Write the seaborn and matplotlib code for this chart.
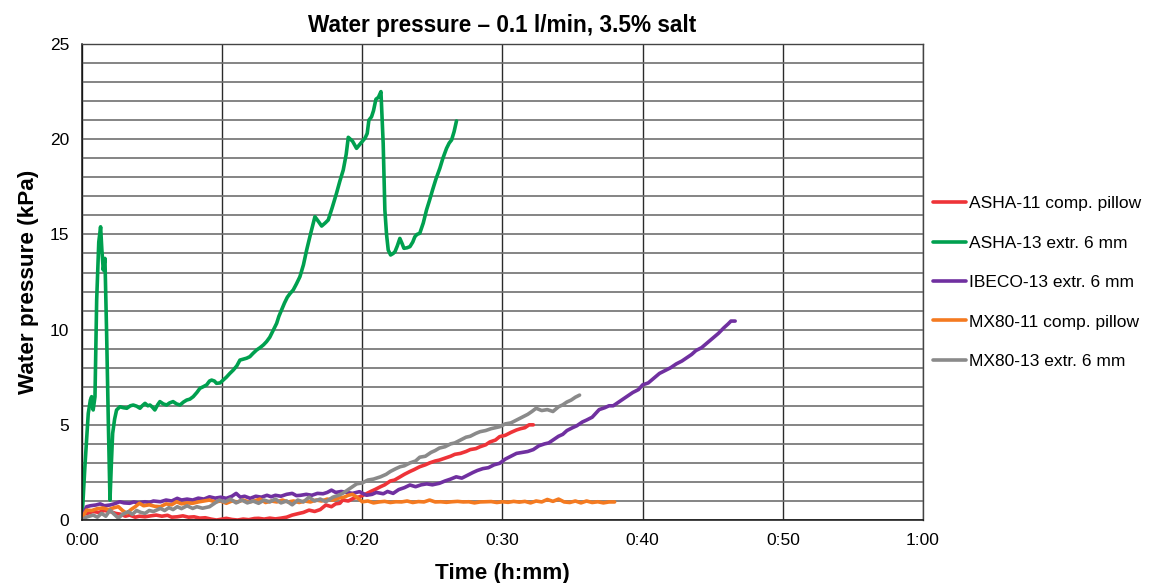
import matplotlib
matplotlib.use("Agg")
import matplotlib.pyplot as plt
from matplotlib.lines import Line2D
from matplotlib.ticker import MultipleLocator
import pandas as pd
import seaborn as sns

# Water pressure readings: (elapsed time in minutes, pressure in kPa)
asha11_pillow = [
    (0.0, 0.3), (0.4, 0.35), (0.8, 0.45), (1.2, 0.4), (1.6, 0.5), (2.0, 0.45), (2.4, 0.35),
    (2.8, 0.3), (3.1, 0.2), (3.4, 0.26), (3.8, 0.15), (4.1, 0.2), (4.5, 0.17), (4.9, 0.22),
    (5.3, 0.26), (5.7, 0.2), (6.1, 0.25), (6.4, 0.15), (6.8, 0.17), (7.2, 0.22), (7.6, 0.15),
    (8.0, 0.17), (8.4, 0.1), (8.8, 0.12), (9.2, 0.05), (9.6, 0.0), (10.0, 0.05), (10.3, 0.09),
    (10.7, 0.03), (11.1, 0.0), (11.5, 0.05), (11.9, 0.02), (12.3, 0.08), (12.6, 0.09),
    (13.0, 0.05), (13.4, 0.1), (13.8, 0.06), (14.2, 0.1), (14.6, 0.15), (15.0, 0.26),
    (15.5, 0.35), (15.8, 0.4), (16.2, 0.52), (16.6, 0.45), (17.0, 0.55), (17.4, 0.79),
    (17.8, 0.7), (18.1, 0.85), (18.4, 0.88), (18.6, 1.05), (19.0, 1.0), (19.4, 1.15),
    (19.8, 1.22), (20.2, 1.35), (20.6, 1.5), (20.9, 1.6), (21.3, 1.75), (21.6, 1.85),
    (22.0, 2.05), (22.3, 2.1), (22.7, 2.27), (23.0, 2.4), (23.4, 2.55), (23.7, 2.65),
    (24.1, 2.8), (24.5, 2.9), (24.8, 3.0), (25.2, 3.1), (25.5, 3.15), (25.9, 3.25),
    (26.3, 3.35), (26.6, 3.45), (27.0, 3.5), (27.4, 3.6), (27.7, 3.7), (28.1, 3.75),
    (28.4, 3.85), (28.8, 3.95), (29.1, 4.1), (29.5, 4.2), (29.8, 4.38), (30.2, 4.45),
    (30.6, 4.6), (31.0, 4.73), (31.3, 4.8), (31.6, 4.85), (31.9, 5.0), (32.2, 5.0),
]

asha13_extr = [
    (0.0, 0.0), (0.21, 2.8), (0.45, 5.6), (0.6, 6.3), (0.69, 6.48), (0.8, 5.78), (0.93, 6.48),
    (1.05, 11.55), (1.2, 14.6), (1.33, 15.4), (1.42, 14.2), (1.52, 13.13), (1.64, 13.74),
    (1.76, 9.8), (1.88, 5.2), (2.0, 1.05), (2.1, 3.0), (2.19, 4.55), (2.33, 5.3), (2.47, 5.78),
    (2.71, 5.95), (2.95, 5.9), (3.2, 5.87), (3.45, 6.0), (3.66, 6.04), (3.9, 5.98),
    (4.14, 5.87), (4.3, 6.0), (4.5, 6.13), (4.7, 6.0), (4.85, 6.04), (5.0, 5.95), (5.2, 5.78),
    (5.4, 6.05), (5.56, 6.22), (5.8, 6.1), (6.04, 6.04), (6.25, 6.15), (6.5, 6.22), (6.75, 6.1),
    (6.99, 6.04), (7.25, 6.2), (7.47, 6.3), (7.7, 6.35), (7.94, 6.48), (8.2, 6.7), (8.42, 6.92),
    (8.65, 7.0), (8.9, 7.1), (9.1, 7.3), (9.25, 7.35), (9.45, 7.3), (9.6, 7.18), (9.85, 7.2),
    (10.08, 7.35), (10.3, 7.5), (10.55, 7.7), (10.8, 7.88), (11.05, 8.1), (11.27, 8.4),
    (11.5, 8.45), (11.75, 8.5), (11.98, 8.58), (12.2, 8.75), (12.46, 8.93), (12.7, 9.05),
    (12.95, 9.2), (13.17, 9.37), (13.4, 9.6), (13.6, 9.9), (13.89, 10.33), (14.05, 10.7),
    (14.24, 11.03), (14.45, 11.4), (14.65, 11.7), (14.85, 11.9), (15.07, 12.08), (15.3, 12.4),
    (15.55, 12.78), (15.8, 13.4), (16.03, 14.18), (16.3, 15.0), (16.62, 15.93), (16.85, 15.7),
    (17.1, 15.44), (17.35, 15.6), (17.57, 15.76), (17.85, 16.4), (18.16, 17.16), (18.4, 17.8),
    (18.64, 18.38), (18.85, 19.2), (19.0, 20.1), (19.3, 19.9), (19.59, 19.52), (19.9, 19.8),
    (20.19, 20.05), (20.35, 20.3), (20.47, 21.0), (20.66, 21.18), (20.8, 21.5), (20.97, 22.1),
    (21.15, 22.2), (21.33, 22.5), (21.49, 19.78), (21.61, 16.28), (21.73, 15.0), (21.85, 14.18),
    (22.02, 13.92), (22.2, 14.0), (22.33, 14.09), (22.5, 14.4), (22.68, 14.79), (22.85, 14.5),
    (22.97, 14.27), (23.2, 14.3), (23.4, 14.36), (23.6, 14.6), (23.75, 14.88), (23.9, 15.0),
    (24.1, 15.06), (24.35, 15.6), (24.58, 16.28), (24.8, 16.8), (25.01, 17.33), (25.25, 17.9),
    (25.53, 18.47), (25.75, 19.0), (26.01, 19.52), (26.2, 19.8), (26.37, 19.96), (26.55, 20.4),
    (26.72, 20.96),
]

ibeco13_extr = [
    (0.0, 0.0), (0.15, 0.4), (0.33, 0.7), (0.6, 0.75), (1.0, 0.79), (1.3, 0.85), (1.6, 0.75),
    (2.0, 0.79), (2.3, 0.85), (2.7, 0.96), (3.0, 0.9), (3.4, 0.88), (3.7, 0.95), (4.0, 0.9),
    (4.5, 0.96), (4.8, 0.92), (5.1, 1.0), (5.6, 0.96), (6.0, 1.05), (6.4, 1.0), (6.8, 1.14),
    (7.1, 1.05), (7.5, 1.1), (7.9, 1.05), (8.3, 1.15), (8.7, 1.1), (9.1, 1.22), (9.5, 1.15),
    (9.9, 1.2), (10.3, 1.14), (10.7, 1.25), (11.0, 1.4), (11.3, 1.2), (11.6, 1.25), (12.0, 1.14),
    (12.4, 1.25), (12.8, 1.2), (13.2, 1.3), (13.5, 1.22), (13.8, 1.3), (14.2, 1.25), (14.6, 1.35),
    (15.0, 1.4), (15.3, 1.28), (15.6, 1.3), (16.0, 1.35), (16.4, 1.3), (16.8, 1.4), (17.2, 1.38),
    (17.5, 1.45), (17.8, 1.57), (18.1, 1.45), (18.5, 1.5), (18.9, 1.45), (19.3, 1.4), (19.8, 1.49),
    (20.3, 1.3), (20.7, 1.35), (21.0, 1.45), (21.5, 1.38), (21.8, 1.5), (22.2, 1.4), (22.6, 1.6),
    (23.0, 1.7), (23.4, 1.84), (23.8, 1.75), (24.2, 1.85), (24.6, 1.9), (25.0, 1.85), (25.5, 1.93),
    (25.9, 2.05), (26.3, 2.15), (26.7, 2.27), (27.1, 2.2), (27.5, 2.35), (27.9, 2.5), (28.2, 2.6),
    (28.6, 2.7), (29.0, 2.75), (29.4, 2.9), (29.8, 2.98), (30.2, 3.2), (30.6, 3.35), (31.0, 3.5),
    (31.4, 3.55), (31.8, 3.6), (32.2, 3.7), (32.6, 3.9), (33.0, 4.0), (33.3, 4.05), (33.6, 4.2),
    (34.0, 4.4), (34.3, 4.5), (34.6, 4.7), (35.0, 4.85), (35.3, 4.95), (35.7, 5.15), (36.0, 5.25),
    (36.4, 5.4), (36.9, 5.8), (37.3, 5.9), (37.6, 6.0), (37.9, 6.0), (38.3, 6.2), (38.7, 6.4),
    (39.0, 6.55), (39.3, 6.7), (39.7, 6.85), (40.0, 7.1), (40.4, 7.2), (40.8, 7.45), (41.2, 7.7),
    (41.6, 7.85), (42.0, 8.0), (42.4, 8.2), (42.8, 8.35), (43.1, 8.5), (43.5, 8.7), (43.8, 8.9),
    (44.2, 9.05), (44.6, 9.3), (45.0, 9.55), (45.4, 9.8), (45.8, 10.1), (46.1, 10.3),
    (46.3, 10.45), (46.6, 10.45),
]

mx80_11_pillow = [
    (0.0, 0.08), (0.15, 0.3), (0.33, 0.52), (0.7, 0.5), (1.1, 0.6), (1.5, 0.63), (1.9, 0.55),
    (2.3, 0.65), (2.6, 0.7), (2.9, 0.5), (3.2, 0.35), (3.5, 0.55), (3.8, 0.7), (4.1, 0.88),
    (4.4, 0.75), (4.8, 0.8), (5.2, 0.72), (5.6, 0.7), (6.0, 0.85), (6.4, 0.8), (6.75, 0.96),
    (7.1, 0.85), (7.5, 0.9), (7.9, 0.88), (8.3, 0.95), (8.7, 1.0), (9.1, 1.05), (9.5, 0.95),
    (9.9, 1.0), (10.3, 0.88), (10.7, 1.0), (11.1, 0.95), (11.5, 1.05), (11.9, 0.95), (12.3, 1.0),
    (12.7, 1.1), (13.1, 0.92), (13.5, 1.0), (13.9, 0.95), (14.3, 1.05), (14.7, 0.95), (15.1, 1.0),
    (15.5, 0.92), (15.9, 1.0), (16.3, 0.95), (16.7, 1.05), (17.1, 1.0), (17.5, 1.1), (17.9, 1.05),
    (18.3, 1.15), (18.7, 1.2), (19.0, 1.3), (19.3, 1.35), (19.6, 1.2), (20.0, 0.96), (20.4, 1.0),
    (20.8, 0.9), (21.2, 0.95), (21.6, 0.98), (22.0, 0.92), (22.4, 0.96), (22.8, 0.95), (23.2, 1.0),
    (23.6, 0.92), (24.0, 0.97), (24.4, 0.95), (24.8, 1.05), (25.2, 0.95), (25.6, 0.96),
    (26.0, 0.93), (26.4, 0.96), (26.8, 0.98), (27.2, 0.95), (27.6, 0.96), (28.0, 0.9),
    (28.4, 0.95), (28.8, 0.96), (29.2, 0.97), (29.6, 0.92), (30.0, 0.96), (30.4, 0.93),
    (30.8, 0.98), (31.2, 0.94), (31.6, 0.98), (32.0, 0.9), (32.4, 1.0), (32.8, 0.95),
    (33.2, 1.08), (33.6, 0.98), (34.0, 1.1), (34.4, 0.95), (34.8, 0.92), (35.2, 1.0), (35.6, 0.9),
    (36.0, 1.0), (36.4, 0.92), (36.8, 0.96), (37.2, 0.9), (37.6, 0.95), (38.0, 0.95),
]

mx80_13_extr = [
    (0.0, 0.0), (0.3, 0.15), (0.8, 0.26), (1.1, 0.15), (1.4, 0.35), (1.7, 0.2), (2.0, 0.52),
    (2.3, 0.3), (2.6, 0.1), (2.9, 0.3), (3.3, 0.44), (3.6, 0.3), (3.9, 0.5), (4.2, 0.4),
    (4.5, 0.35), (4.8, 0.5), (5.1, 0.45), (5.6, 0.61), (5.9, 0.5), (6.2, 0.65), (6.5, 0.55),
    (6.8, 0.7), (7.1, 0.6), (7.5, 0.75), (7.9, 0.61), (8.2, 0.7), (8.6, 0.62), (9.1, 0.7),
    (9.4, 0.85), (9.8, 1.05), (10.2, 0.95), (10.6, 1.1), (11.0, 0.9), (11.4, 1.05), (11.8, 0.9),
    (12.2, 1.0), (12.6, 0.88), (13.0, 1.05), (13.4, 0.95), (13.8, 1.1), (14.2, 0.9), (14.6, 1.0),
    (15.0, 0.8), (15.4, 1.05), (15.8, 0.95), (16.2, 1.2), (16.6, 1.0), (17.0, 1.1), (17.4, 0.96),
    (17.9, 1.2), (18.3, 1.3), (18.6, 1.4), (19.0, 1.6), (19.3, 1.75), (19.6, 1.9), (20.0, 1.95),
    (20.4, 2.1), (20.8, 2.15), (21.3, 2.27), (21.7, 2.4), (22.0, 2.55), (22.4, 2.7), (22.7, 2.8),
    (23.0, 2.85), (23.4, 3.0), (23.8, 3.1), (24.1, 3.3), (24.5, 3.35), (24.9, 3.55), (25.2, 3.65),
    (25.5, 3.78), (25.9, 3.85), (26.3, 4.0), (26.6, 4.05), (27.0, 4.2), (27.4, 4.35), (27.7, 4.4),
    (28.1, 4.55), (28.4, 4.64), (28.8, 4.7), (29.2, 4.8), (29.5, 4.85), (29.8, 4.9), (30.2, 5.05),
    (30.6, 5.1), (31.0, 5.25), (31.4, 5.4), (31.8, 5.55), (32.1, 5.7), (32.4, 5.87), (32.8, 5.75),
    (33.2, 5.8), (33.6, 5.7), (34.0, 5.95), (34.3, 6.05), (34.6, 6.2), (34.9, 6.3), (35.2, 6.45),
    (35.5, 6.56),
]

series_names = [
    "ASHA-11 comp. pillow",
    "ASHA-13 extr. 6 mm",
    "IBECO-13 extr. 6 mm",
    "MX80-11 comp. pillow",
    "MX80-13 extr. 6 mm",
]
series_data = [asha11_pillow, asha13_extr, ibeco13_extr, mx80_11_pillow, mx80_13_extr]
series_colors = ["#EE3338", "#00A04F", "#7030A0", "#F47A20", "#8A8A8A"]

x_tick_minutes = [0, 10, 20, 30, 40, 50, 60]
x_tick_labels = ["0:00", "0:10", "0:20", "0:30", "0:40", "0:50", "1:00"]

rows = []
for name, pts in zip(series_names, series_data):
    for t, p in pts:
        rows.append({"Time": t, "Pressure": p, "Series": name})
df = pd.DataFrame(rows)
palette = dict(zip(series_names, series_colors))

sns.set_style("white")
plt.rcParams["font.family"] = ["Liberation Sans", "DejaVu Sans"]
plt.rcParams["text.color"] = "black"
plt.rcParams["axes.labelcolor"] = "black"
plt.rcParams["xtick.color"] = "black"
plt.rcParams["ytick.color"] = "black"

fig = plt.figure(figsize=(11.51, 5.83), dpi=100)
ax = fig.add_axes([0.0712, 0.108, 0.7307, 0.8165])

sns.lineplot(
    data=df, x="Time", y="Pressure", hue="Series", hue_order=series_names,
    palette=palette, estimator=None, sort=False, linewidth=2.6, legend=False, ax=ax,
)

ax.set_xlim(0, 60)
ax.set_ylim(0, 25)
ax.set_xticks(x_tick_minutes)
ax.set_xticklabels(x_tick_labels)
ax.yaxis.set_major_locator(MultipleLocator(5))
ax.yaxis.set_minor_locator(MultipleLocator(1))
ax.tick_params(axis="both", which="major", direction="out", length=5, width=1,
               color="#222222", labelsize=12.5, pad=4)
ax.tick_params(axis="y", which="minor", length=0)

ax.grid(axis="y", which="both", color="#6f6f6f", linewidth=1.2)
ax.grid(axis="x", which="major", color="#2a2a2a", linewidth=1.0)
ax.set_axisbelow(True)

for side in ["left", "bottom"]:
    ax.spines[side].set_color("#111111")
    ax.spines[side].set_linewidth(1.1)
for side in ["top", "right"]:
    ax.spines[side].set_color("#444444")
    ax.spines[side].set_linewidth(1.0)

ax.set_title("Water pressure \u2013 0.1 l/min, 3.5% salt", fontsize=16.3,
             fontweight="bold", pad=9)
ax.set_xlabel("Time (h:mm)", fontsize=16.2, fontweight="bold", labelpad=11)
ax.set_ylabel("Water pressure (kPa)", fontsize=16.2, fontweight="bold", labelpad=8)

handles = [Line2D([0], [0], color=c, linewidth=2.6) for c in series_colors]
fig.legend(
    handles, series_names, loc="center left", bbox_to_anchor=(0.8106, 0.5154),
    frameon=False, fontsize=12.5, handlelength=1.9, handletextpad=0.2,
    labelspacing=1.4, borderpad=0, borderaxespad=0,
)

fig.savefig("out.png", dpi=100)
